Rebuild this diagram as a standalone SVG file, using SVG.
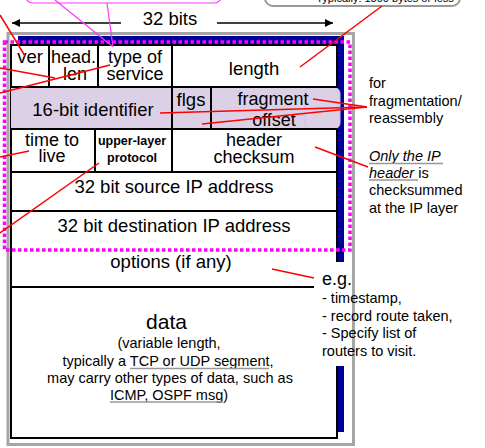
<svg xmlns="http://www.w3.org/2000/svg" width="485" height="448" viewBox="0 0 485 448">
<style>
text{font-family:"Liberation Sans",Arial,sans-serif;fill:#000}
.f{font-size:18.5px;text-anchor:middle}
.f2{font-size:18px;text-anchor:middle}
.s{font-size:14.5px}
.c{font-size:14.5px;text-anchor:middle}
.b{font-size:12.5px;font-weight:bold;text-anchor:middle}
.tl{stroke:#000;stroke-width:2;fill:none}
.red{stroke:#F00;stroke-width:1.5;fill:none}
.mag{stroke:#F3F;stroke-width:1.2;fill:none}
.ul{stroke:#999;stroke-width:1.5}
</style>
<defs>
<marker id="ah" viewBox="0 0 10 10" refX="10" refY="5" markerWidth="10" markerHeight="8" markerUnits="userSpaceOnUse" orient="auto">
<path d="M0,0 L10,5 L0,10 z" fill="#000"/>
</marker>
</defs>
<g id="callout-tos">
<rect x="25" y="-30" width="197" height="33" rx="8" fill="#fff" stroke="#F3F" stroke-width="1.2"/>
</g>
<g id="callout-length">
<rect x="265" y="-30" width="195" height="36" rx="8" fill="#fff" stroke="#999" stroke-width="2"/>
<text x="385" y="1.5" style="font-size:11px;text-anchor:middle">Typically: 1500 bytes or less</text>
</g>
<g id="width-label">
<text x="170" y="25" class="f">32 bits</text>
<line x1="121" y1="23" x2="12" y2="23" stroke="#000" stroke-width="1.5" marker-end="url(#ah)"/>
<line x1="217" y1="23" x2="333" y2="23" stroke="#000" stroke-width="1.5" marker-end="url(#ah)"/>
</g>
<g id="datagram">
<rect x="18" y="36" width="326" height="396" fill="#000099"/>
<rect x="11" y="45" width="326" height="393" fill="#fff" stroke="#000" stroke-width="2"/>
<rect x="11" y="87" width="326" height="42" fill="#DCD0E6"/>
<rect x="305" y="87.5" width="35" height="41.5" rx="6" fill="#DCD0E6" stroke="#CFC3DD" stroke-width="1"/>
<line class="tl" x1="11" y1="87" x2="337" y2="87"/>
<line class="tl" x1="11" y1="129" x2="337" y2="129"/>
<line class="tl" x1="11" y1="172" x2="337" y2="172"/>
<line class="tl" x1="11" y1="211" x2="337" y2="211"/>
<line class="tl" x1="11" y1="287" x2="314" y2="287" stroke-width="2.5"/>
<line class="tl" x1="49" y1="45" x2="49" y2="87"/>
<line class="tl" x1="98" y1="45" x2="98" y2="87"/>
<line class="tl" x1="172" y1="45" x2="172" y2="172"/>
<line class="tl" x1="211" y1="87" x2="211" y2="129"/>
<line class="tl" x1="95" y1="129" x2="95" y2="172"/>
<rect x="314.5" y="262" width="37" height="104" fill="#fff"/>
<rect x="8" y="33.5" width="345.5" height="411" fill="none" stroke="#A6A6A6" stroke-width="3"/>
<rect x="4.5" y="42" width="345.5" height="208" fill="none" stroke="#F0F" stroke-width="3.5" stroke-dasharray="3.5 2.5"/>
</g>
<g id="ver"><text x="30" y="63" class="f">ver</text></g>
<g id="hlen"><text x="73.5" y="63" class="f2">head.</text><text x="75" y="80" class="f2">len</text></g>
<g id="tos"><text x="135" y="63" class="f2">type of</text><text x="135" y="80" class="f2">service</text></g>
<g id="length"><text x="254" y="75" class="f">length</text></g>
<g id="ident"><text x="93" y="116" class="f">16-bit identifier</text></g>
<g id="flgs"><text x="191" y="106" class="f">flgs</text></g>
<g id="fragoff"><text x="273" y="105" class="f2">fragment</text><text x="274" y="126" class="f2">offset</text></g>
<g id="ttl"><text x="52" y="146" class="f2">time to</text><text x="52" y="162" class="f2">live</text></g>
<g id="proto"><text x="132" y="145" class="b">upper-layer</text><text x="132" y="162" class="b">protocol</text></g>
<g id="cksum"><text x="254" y="146" class="f2">header</text><text x="254" y="163" class="f2">checksum</text></g>
<g id="src"><text x="174" y="193" class="f">32 bit source IP address</text></g>
<g id="dst"><text x="174" y="232" class="f">32 bit destination IP address</text></g>
<g id="options"><text x="171" y="268" class="f">options (if any)</text></g>
<g id="data">
<text x="166.5" y="329" style="font-size:21px;text-anchor:middle">data</text>
<text x="169" y="348" class="c">(variable length,</text>
<text x="168" y="366" class="c">typically a TCP or UDP segment,</text>
<text x="170" y="383" class="c">may carry other types of data, such as</text>
<text x="169" y="400" class="c">ICMP, OSPF msg)</text>
<line class="ul" x1="130" y1="368.5" x2="269" y2="368.5"/>
<line class="ul" x1="110" y1="402" x2="223" y2="402"/>
</g>
<g id="note-frag">
<text x="369" y="88" class="s">for</text>
<text x="369" y="106" class="s">fragmentation/</text>
<text x="369" y="123" class="s">reassembly</text>
</g>
<g id="note-cksum">
<text x="369" y="161" class="s" font-style="italic">Only the IP</text>
<text x="369" y="178" class="s"><tspan font-style="italic">header</tspan> is</text>
<text x="369" y="195" class="s">checksummed</text>
<text x="369" y="213" class="s">at the IP layer</text>
<line class="ul" x1="369" y1="163.5" x2="443" y2="163.5"/>
<line class="ul" x1="369" y1="180" x2="418" y2="180"/>
</g>
<g id="note-options">
<text x="322" y="285" style="font-size:18px">e.g.</text>
<text x="322" y="303" class="s">- timestamp,</text>
<text x="322" y="321" class="s">- record route taken,</text>
<text x="322" y="338" class="s">- Specify list of</text>
<text x="322" y="356" class="s">routers to visit.</text>
</g>
<g id="connectors">
<line class="mag" x1="55" y1="0" x2="112" y2="46"/>
<line class="mag" x1="107" y1="3" x2="113" y2="47"/>
<line class="red" x1="382" y1="6" x2="300" y2="67"/>
<line class="red" x1="0" y1="15" x2="25" y2="56"/>
<line class="red" x1="0" y1="68" x2="55" y2="78"/>
<line class="red" x1="0" y1="93" x2="110" y2="65"/>
<line class="red" x1="0" y1="157" x2="29" y2="151"/>
<line class="red" x1="0" y1="233" x2="99" y2="163"/>
<line class="red" x1="160" y1="113" x2="367" y2="107"/>
<line class="red" x1="313" y1="99" x2="367" y2="107"/>
<line class="red" x1="202" y1="124" x2="367" y2="107"/>
<line class="red" x1="315" y1="147" x2="368" y2="167"/>
<line class="red" x1="272" y1="269" x2="314" y2="278"/>
</g>
</svg>
